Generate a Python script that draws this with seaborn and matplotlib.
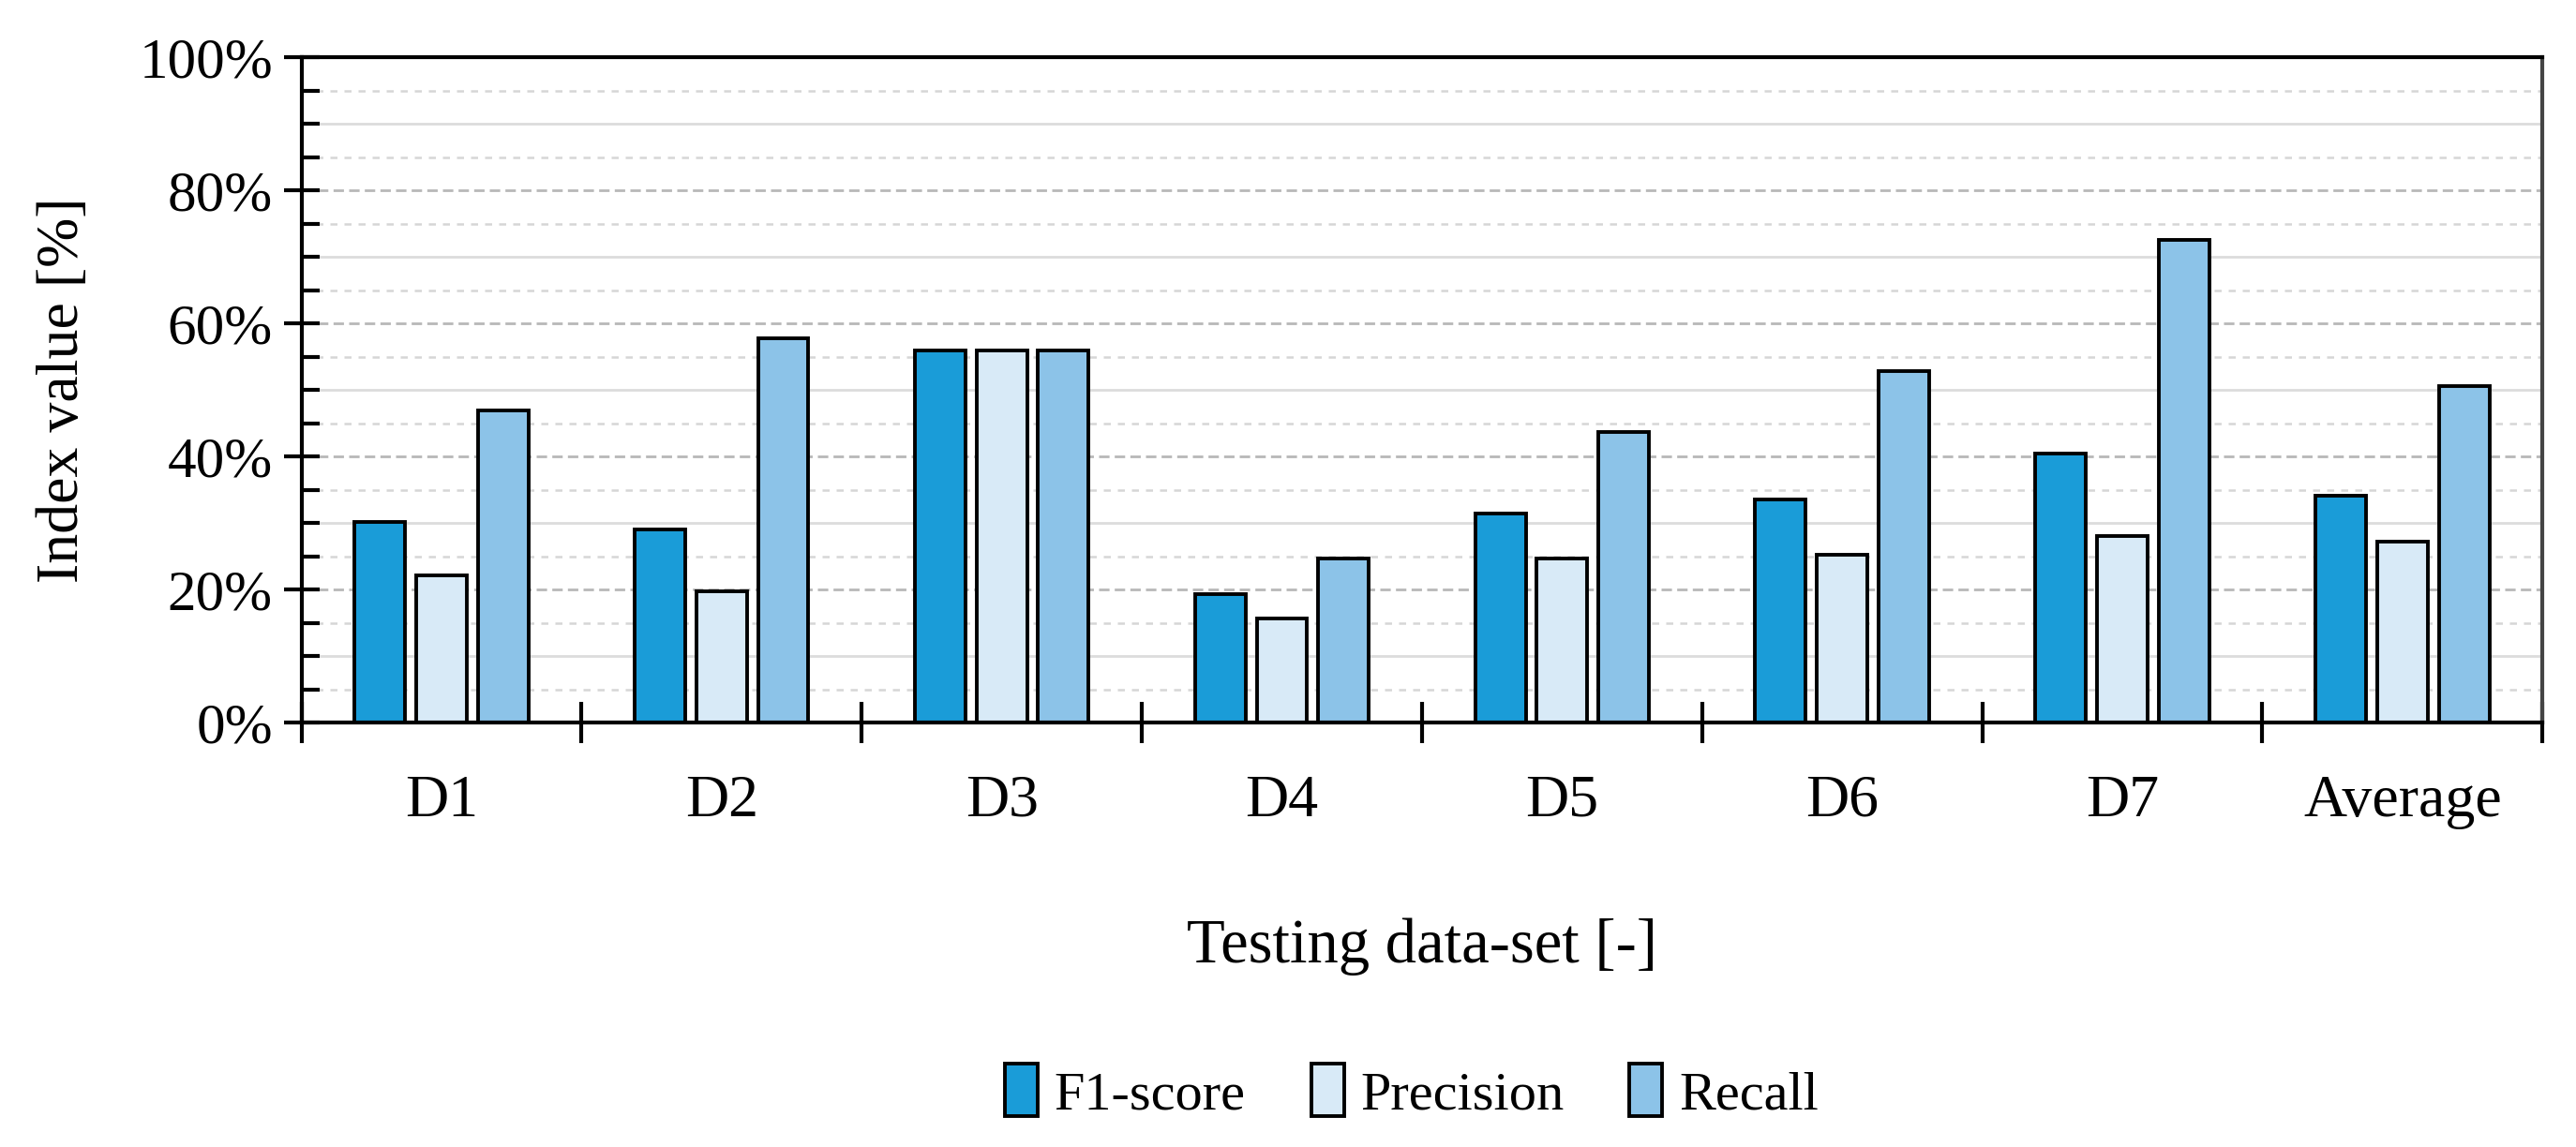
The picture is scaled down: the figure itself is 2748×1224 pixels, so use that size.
import numpy as np
import pandas as pd
import matplotlib
matplotlib.use("Agg")
import matplotlib.pyplot as plt
import seaborn as sns
from matplotlib.ticker import FixedLocator, FuncFormatter

# data
datasets = ["D1", "D2", "D3", "D4", "D5", "D6", "D7", "Average"]
metrics = ["F1-score", "Precision", "Recall"]
f1_score = [30.1, 29.1, 56.0, 19.3, 31.4, 33.6, 40.5, 34.1]
precision = [22.2, 19.8, 56.0, 15.6, 24.7, 25.2, 28.1, 27.2]
recall = [46.9, 57.8, 56.0, 24.7, 43.7, 52.8, 72.6, 50.6]
colors = ["#1a9cd8", "#d8eaf7", "#8cc3e8"]

df = pd.DataFrame({
    "dataset": datasets * 3,
    "metric": [m for m in metrics for _ in datasets],
    "value": f1_score + precision + recall,
})

sns.set_style("white")
plt.rcParams["font.family"] = ["Liberation Serif", "DejaVu Serif"]
plt.rcParams["text.color"] = "black"
plt.rcParams["axes.labelcolor"] = "black"
plt.rcParams["xtick.color"] = "black"
plt.rcParams["ytick.color"] = "black"

fig = plt.figure(figsize=(13.74, 6.12), dpi=200)
ax = fig.add_axes([0.117, 0.370, 0.870, 0.580])

sns.barplot(data=df, x="dataset", y="value", hue="metric", order=datasets,
            hue_order=metrics, palette=colors, saturation=1, width=0.66, gap=0.18,
            edgecolor="black", linewidth=1.4, ax=ax, legend=True)

# y axis
ax.set_ylim(0, 100)
ax.set_yticks(np.arange(0, 101, 20))
ax.yaxis.set_major_formatter(FuncFormatter(lambda v, p: f"{v:.0f}%"))
ax.yaxis.set_minor_locator(FixedLocator(np.arange(0, 101, 5)))
ax.tick_params(axis="y", which="major", direction="inout", length=14, width=1.5,
               labelsize=22, pad=4, left=True, colors="black")
ax.tick_params(axis="y", which="minor", direction="in", length=7, width=1.5, left=True,
               colors="black")

# grid lines
for v in np.arange(5, 100, 5):
    if v % 20 == 0:
        ax.axhline(v, color="#b8b8b8", lw=1.0, ls=(0, (4, 2)), zorder=0)
    elif v % 10 == 0:
        ax.axhline(v, color="#dcdcdc", lw=1.0, ls="-", zorder=0)
    else:
        ax.axhline(v, color="#d6d6d6", lw=0.9, ls=(0, (3, 3)), zorder=0)
ax.set_axisbelow(True)

# x axis: ticks at group boundaries, labels at centres
ax.set_xlim(-0.5, len(datasets) - 0.5)
ax.set_xticks(np.arange(-0.5, len(datasets), 1.0))
ax.set_xticklabels([])
ax.set_xticks(np.arange(len(datasets)), minor=True)
ax.set_xticklabels(datasets, minor=True)
ax.tick_params(axis="x", which="major", direction="inout", length=16, width=1.5,
               bottom=True, colors="black")
ax.tick_params(axis="x", which="minor", length=0, labelsize=23, pad=20, colors="black")

for s in ax.spines.values():
    s.set_visible(True)
    s.set_color("black")
    s.set_linewidth(1.5)
ax.spines["right"].set_color("#444444")

ax.set_xlabel("Testing data-set [-]", fontsize=24, labelpad=34)
ax.set_ylabel("Index value [%]", fontsize=23)
ax.yaxis.set_label_coords(-0.094, 0.5)

handles, labels = ax.get_legend_handles_labels()
ax.get_legend().remove()
fig.legend(handles, labels, loc="center", bbox_to_anchor=(0.548, 0.048), ncol=3,
           frameon=False, fontsize=21, handlelength=0.6, handleheight=1.1,
           handletextpad=0.3, columnspacing=1.2)

plt.savefig("out.png", dpi=200)
